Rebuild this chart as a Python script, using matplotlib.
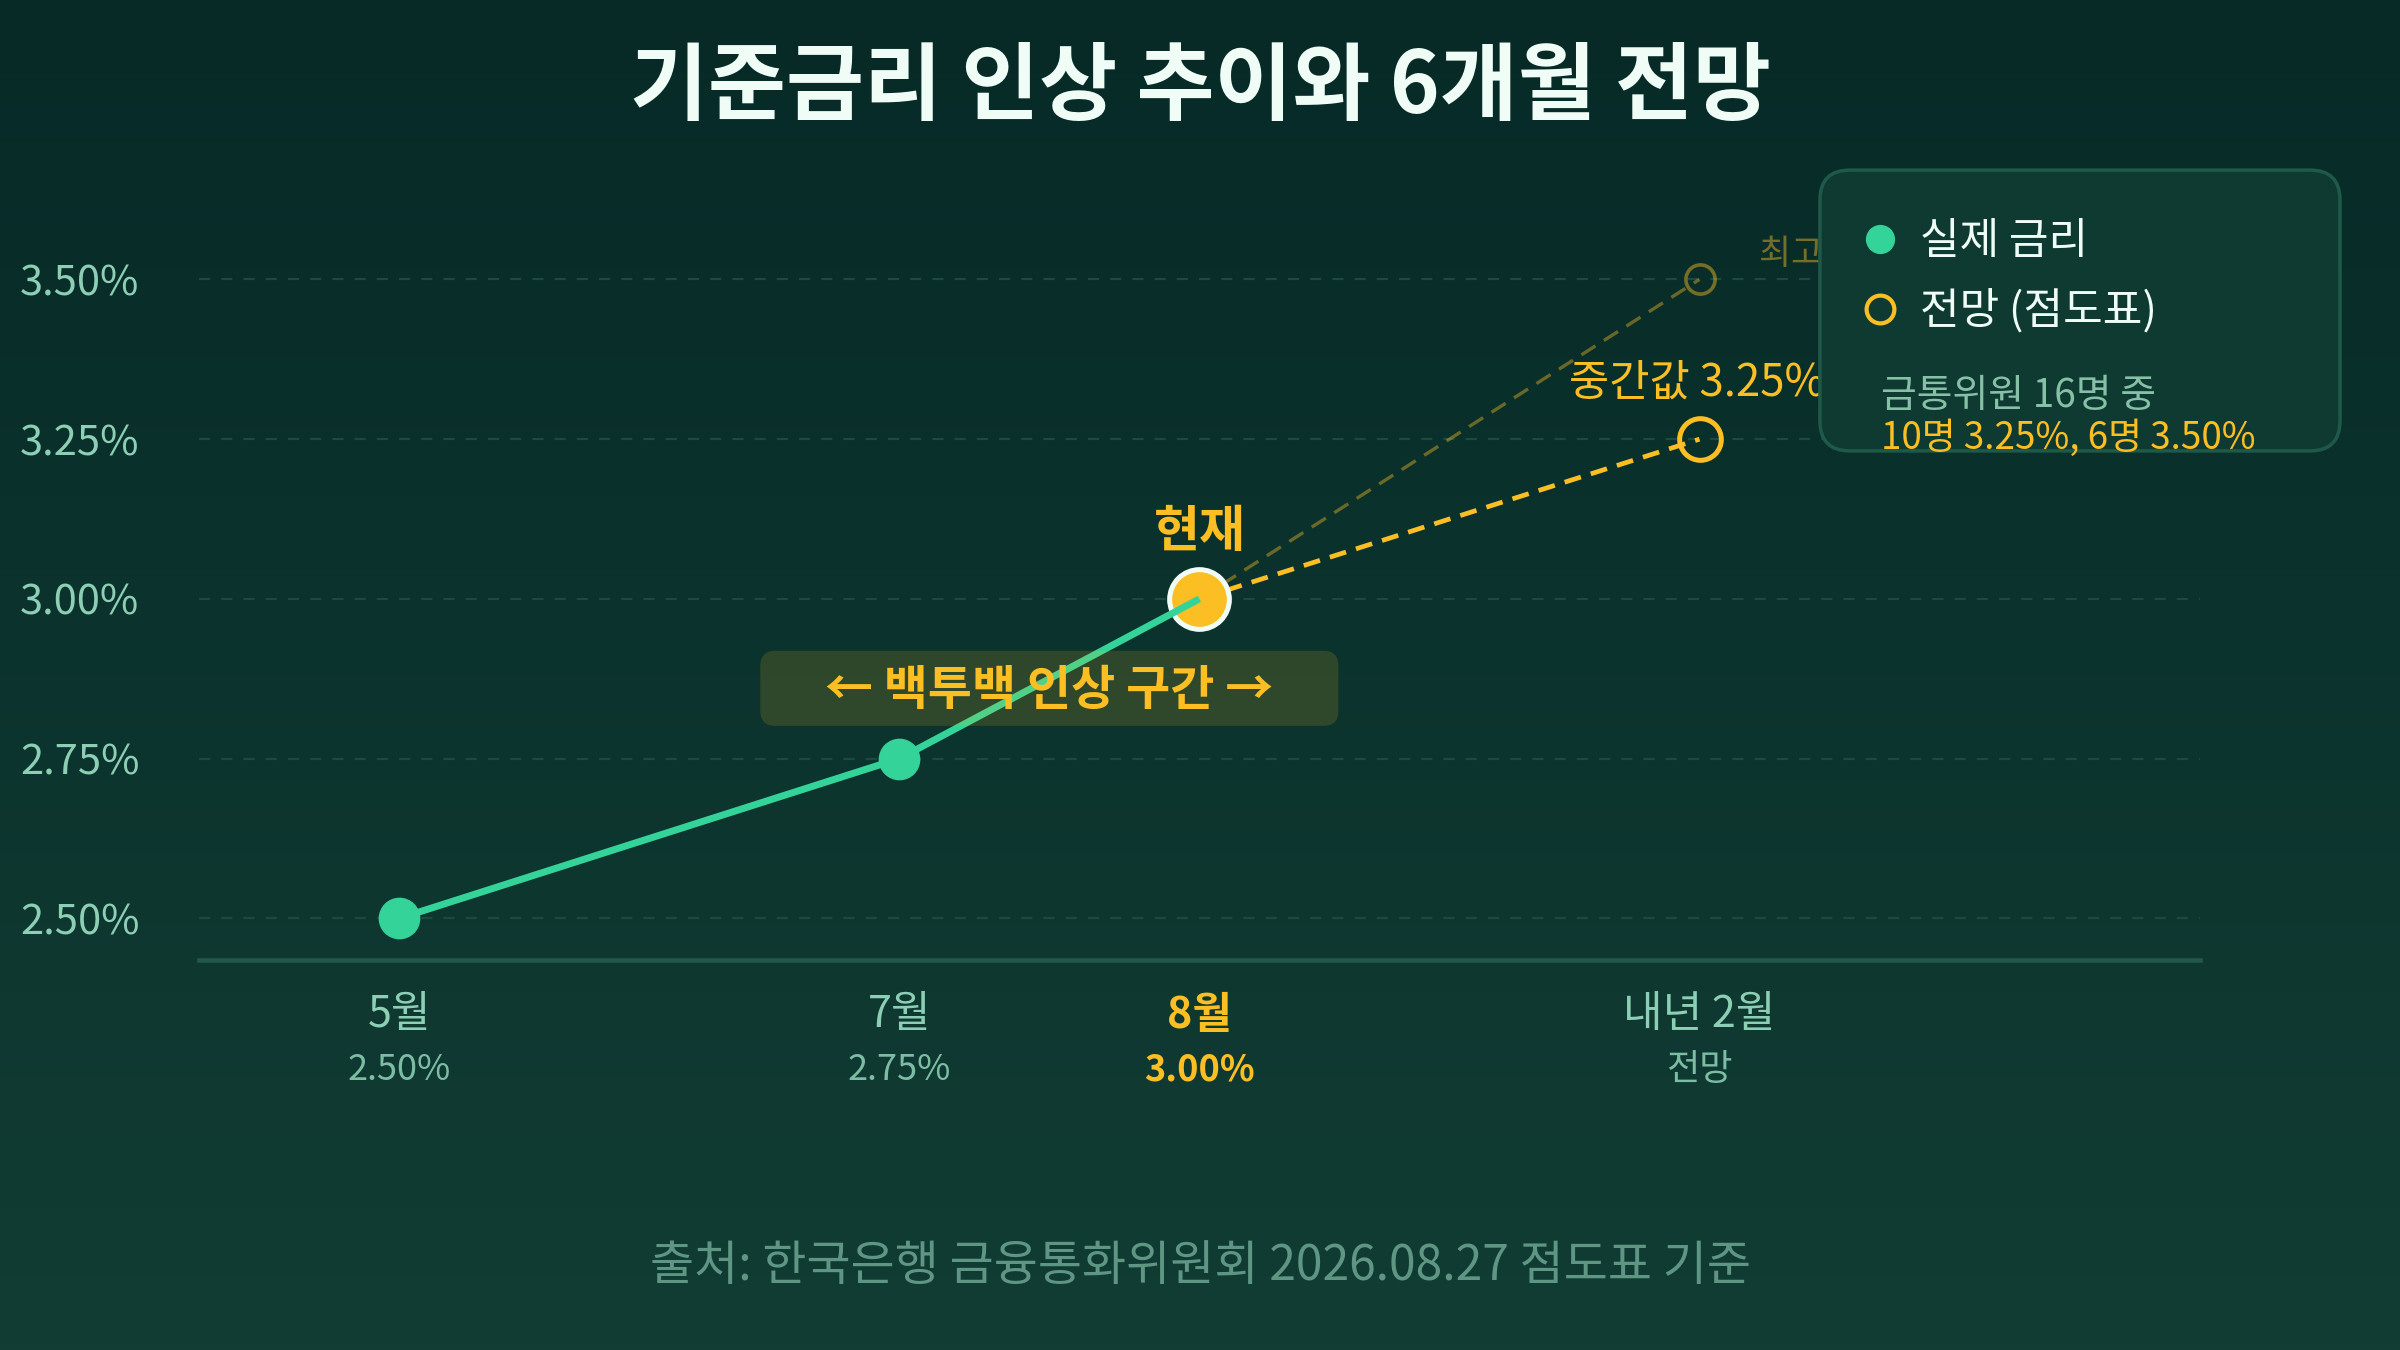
import numpy as np
import matplotlib.pyplot as plt
from matplotlib.patches import FancyBboxPatch
from matplotlib.lines import Line2D

plt.rcParams["font.family"] = ["Noto Sans CJK KR", "DejaVu Sans"]

# data
MONTHS = ["5월", "7월", "8월", "내년 2월"]
MONTH_SUBS = ["2.50%", "2.75%", "3.00%", "전망"]
ACTUAL_RATE = [2.50, 2.75, 3.00]
MEDIAN_RATE = [3.00, 3.25]
HIGH_RATE = [3.00, 3.50]
Y_TICKS = [2.50, 2.75, 3.00, 3.25, 3.50]
DOT_COUNTS = [10, 6]
DOT_RATES = [3.25, 3.50]

# layout
X_POS = [0.4, 1.4, 2.0, 3.0]
CURRENT = 2

BG_TOP = "#072a27"
BG_BOTTOM = "#113d34"
GREEN = "#34d399"
YELLOW = "#fbbf24"
MINT = "#8ccfb4"
SUB = "#7dbda3"
GRID = "#1c4a40"
BASE = "#22594a"
WHITE = "#effdf6"

fig = plt.figure(figsize=(24, 13.5), dpi=100)

# background gradient
bg = fig.add_axes([0, 0, 1, 1], zorder=-10)
grad = np.linspace(0, 1, 256)[:, None]
c0 = np.array(plt.matplotlib.colors.to_rgb(BG_TOP))
c1 = np.array(plt.matplotlib.colors.to_rgb(BG_BOTTOM))
img = c0[None, None, :] * (1 - grad[..., None]) + c1[None, None, :] * grad[..., None]
bg.imshow(img, aspect="auto", extent=[0, 1, 0, 1])
bg.axis("off")

ax = fig.add_axes([0.083, 0.289, 0.8335, 0.575])
ax.set_facecolor("none")
ax.set_xlim(0, 4)
ax.set_ylim(2.435, 3.65)

for s in ["top", "right", "left"]:
    ax.spines[s].set_visible(False)
ax.spines["bottom"].set_color(BASE)
ax.spines["bottom"].set_linewidth(3.3)

ax.set_yticks(Y_TICKS, [f"{v:.2f}%" for v in Y_TICKS])
ax.tick_params(axis="y", length=0, pad=43, labelsize=30, labelcolor=MINT)
ax.set_xticks([])
ax.grid(axis="y", color=GRID, linestyle=(0, (5, 5)), linewidth=1.6)
ax.set_axisbelow(True)

# forecast lines
ax.plot(X_POS[CURRENT:], HIGH_RATE, color=YELLOW, alpha=0.4, lw=2.4,
        ls=(0, (5, 3)), zorder=2)
ax.plot(X_POS[3], HIGH_RATE[1], "o", ms=21, mfc="none", mec=YELLOW,
        mew=2.6, alpha=0.45, zorder=2)
ax.plot(X_POS[CURRENT:], MEDIAN_RATE, color=YELLOW, lw=3.4,
        ls=(0, (3.6, 2.2)), zorder=2)
ax.plot(X_POS[3], MEDIAN_RATE[1], "o", ms=30, mfc="none", mec=YELLOW,
        mew=3.6, zorder=3)

# actual
ax.plot(X_POS[CURRENT], ACTUAL_RATE[CURRENT], "o", ms=43, mfc=YELLOW,
        mec=WHITE, mew=3.6, zorder=3)
ax.plot(X_POS[:3], ACTUAL_RATE, color=GREEN, lw=5, zorder=4,
        solid_capstyle="butt")
ax.plot(X_POS[:2], ACTUAL_RATE[:2], "o", ms=29, color=GREEN, zorder=5)

# annotations
ax.annotate("현재", (X_POS[CURRENT], ACTUAL_RATE[CURRENT]), xytext=(0, 48),
            textcoords="offset points", ha="center", va="center",
            fontsize=36, fontweight="bold", color=YELLOW)
ax.annotate(f"중간값 {MEDIAN_RATE[1]:.2f}%", (X_POS[3], MEDIAN_RATE[1]),
            xytext=(-2, 41), textcoords="offset points", ha="center",
            va="center", fontsize=31.5, color=YELLOW)
ax.annotate(f"최고 {HIGH_RATE[1]:.2f}%", (X_POS[3], HIGH_RATE[1]),
            xytext=(43, 18), textcoords="offset points", ha="left",
            va="center", fontsize=25, color=YELLOW, alpha=0.45)

# back-to-back zone box
bx = (X_POS[1] + X_POS[2]) / 2
by = 2.86
bw, bh = 1.156, 0.1175
box = FancyBboxPatch((bx - bw / 2, by - bh / 2), bw, bh,
                     boxstyle="round,pad=0,rounding_size=0.03",
                     mutation_aspect=0.783, facecolor=YELLOW, alpha=0.15,
                     edgecolor="none", zorder=4.5)
ax.add_patch(box)
ax.text(bx, by - 0.003, "← 백투백 인상 구간 →", ha="center", va="center",
        fontsize=34.5, fontweight="bold", color=YELLOW, zorder=6)

# x labels
for i, (m, s) in enumerate(zip(MONTHS, MONTH_SUBS)):
    cur = i == CURRENT
    ax.annotate(m, (X_POS[i], 0), xycoords=("data", "axes fraction"),
                xytext=(0, -40), textcoords="offset points", ha="center",
                va="center", fontsize=31, color=YELLOW if cur else MINT,
                fontweight="bold" if cur else "normal")
    ax.annotate(s, (X_POS[i], 0), xycoords=("data", "axes fraction"),
                xytext=(0, -79), textcoords="offset points", ha="center",
                va="center", fontsize=26, color=YELLOW if cur else SUB,
                fontweight="bold" if cur else "normal")

# legend panel
leg = FancyBboxPatch((0.7583, 0.666), 0.2167, 0.208,
                     boxstyle="round,pad=0,rounding_size=0.0125",
                     mutation_aspect=2400 / 1350, facecolor="#0e3a31",
                     edgecolor="#1f5a48", lw=2.5, transform=fig.transFigure,
                     zorder=20)
fig.patches.append(leg)
fig.add_artist(Line2D([0.7833], [1 - 239 / 1350], marker="o", ms=20,
                      color=GREEN, ls="none", transform=fig.transFigure,
                      zorder=21))
fig.add_artist(Line2D([0.7833], [1 - 309 / 1350], marker="o", ms=20,
                      mfc="none", mec=YELLOW, mew=3, ls="none",
                      transform=fig.transFigure, zorder=21))
fig.text(0.800, 1 - 242 / 1350, "실제 금리", ha="left", va="center",
         fontsize=31, color=WHITE, zorder=21)
fig.text(0.800, 1 - 312 / 1350, "전망 (점도표)", ha="left", va="center",
         fontsize=31, color=WHITE, zorder=21)
fig.text(0.7838, 1 - 396 / 1350, f"금통위원 {sum(DOT_COUNTS)}명 중",
         ha="left", va="center", fontsize=28, color="#86c0a6", zorder=21)
fig.text(0.7838, 1 - 438 / 1350,
         ", ".join(f"{n}명 {r:.2f}%" for n, r in zip(DOT_COUNTS, DOT_RATES)),
         ha="left", va="center", fontsize=26.5, color=YELLOW, zorder=21)

fig.text(0.5, 1 - 88 / 1350, "기준금리 인상 추이와 6개월 전망", ha="center",
         va="center", fontsize=61, fontweight="bold", color=WHITE)
fig.text(0.5, 1 - 1266 / 1350,
         "출처: 한국은행 금융통화위원회 2026.08.27 점도표 기준", ha="center",
         va="center", fontsize=34.5, color="#5f9683")

fig.savefig("out.png", dpi=100, facecolor=BG_TOP)
